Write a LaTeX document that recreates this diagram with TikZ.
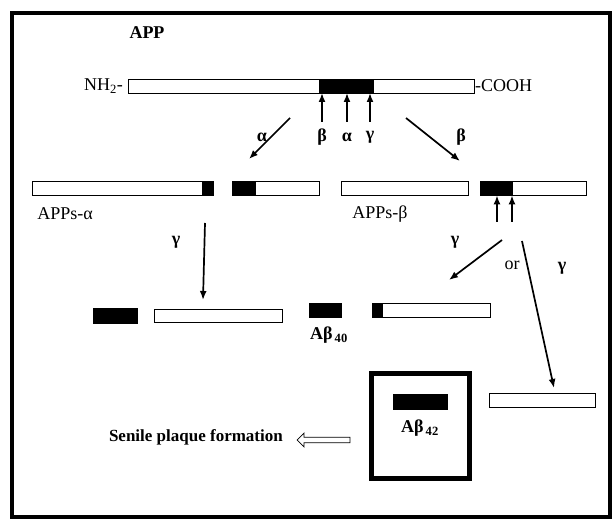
\documentclass[tikz,border=0pt]{standalone}
\usepackage{fontspec}
\setmainfont{Liberation Serif}
\usetikzlibrary{shapes.arrows,arrows.meta}

\begin{document}
\begin{tikzpicture}[
    x=1pt, y=-1pt,
    font=\fontsize{18}{20}\selectfont,
    bar/.style={rectangle, draw, fill=white, thick, inner sep=0pt, minimum height=14pt},
    blk/.style={rectangle, draw, fill=black, thick, inner sep=0pt, minimum height=14pt},
    lbl/.style={inner sep=1pt},
    greek/.style={inner sep=1pt, font=\fontsize{18}{20}\selectfont\bfseries},
    arrow/.style={-{Latex[length=9pt,width=7pt]}, line width=1.7pt}
]
\useasboundingbox (0,0) rectangle (614,521);
\draw[line width=4pt] (12,13) rectangle (610,517);

% full precursor
\node[lbl, font=\fontsize{18}{20}\selectfont\bfseries] (app) at (147,33) {APP};
\node[bar, minimum width=346pt] (main) at (301,86) {};
\node[blk, minimum width=54pt] (abmain) at (346,86) {};
\node[lbl, anchor=east] (nh) at (124,86) {NH\textsubscript{2}-};
\node[lbl, anchor=west] (cooh) at (474,86) {-COOH};

% cleavage sites
\node[greek] (sb) at (322,137) {β};
\node[greek] (sa) at (347,137) {α};
\node[greek] (sg) at (370,137) {γ};
\coordinate (tb) at (322,93);
\coordinate (ta) at (347,93);
\coordinate (tg) at (370,93);
\draw[arrow] (322,122) -- (tb);
\draw[arrow] (347,122) -- (ta);
\draw[arrow] (370,122) -- (tg);

% alpha / beta paths
\coordinate (aS) at (290,118);
\coordinate (aE) at (249,159);
\coordinate (bS) at (406,118);
\coordinate (bE) at (460,161);
\draw[arrow] (aS) -- (aE);
\draw[arrow] (bS) -- (bE);
\node[greek] (la) at (262,137) {α};
\node[greek] (lb) at (461,137) {β};

% second row
\node[bar, minimum width=181pt] (sa1) at (122.5,188) {};
\node[blk, minimum width=11pt] (sa1b) at (207.5,188) {};
\node[bar, minimum width=87pt] (c83) at (275.5,188) {};
\node[blk, minimum width=23pt] (c83b) at (243.5,188) {};
\node[bar, minimum width=127pt] (sb1) at (404.5,188) {};
\node[bar, minimum width=106pt] (c99) at (533,188) {};
\node[blk, minimum width=32pt] (c99b) at (496,188) {};
\node[lbl] (appsa) at (65,214) {APPs-α};
\node[lbl] (appsb) at (380,214) {APPs-β};

\coordinate (u1) at (497,222);
\coordinate (u2) at (512,222);
\draw[arrow] (u1) -- (c99b.south -| u1);
\draw[arrow] (u2) -- (c99b.south -| u2);

% gamma cuts
\coordinate (gS) at (205,223);
\coordinate (gE) at (203,300);
\draw[arrow] (gS) -- (gE);
\node[greek] (lg1) at (176,242) {γ};
\coordinate (lS) at (502,240);
\coordinate (lE) at (449,280);
\draw[arrow] (lS) -- (lE);
\node[greek] (lg2) at (455,242) {γ};
\node[lbl] (or) at (512,265) {or};
\coordinate (rS) at (522,241);
\coordinate (rE) at (554,388);
\draw[arrow] (rS) -- (rE);
\node[greek] (lg3) at (562,268) {γ};

% third row
\node[blk, minimum width=44pt, minimum height=15pt] (p3) at (115,315.5) {};
\node[bar, minimum width=128pt, minimum height=13pt] (aicd) at (218,315.5) {};
\node[blk, minimum width=32pt] (ab40) at (325,310) {};
\node[lbl, font=\fontsize{18}{20}\selectfont\bfseries] (lab40) at (329,335) {Aβ\textsubscript{\,40}};
\node[bar, minimum width=118pt] (c57) at (431,310) {};
\node[blk, minimum width=10pt] (c57b) at (377,310) {};

% A beta 42
\node[rectangle, draw, line width=4.5pt, minimum width=98pt, minimum height=105pt, inner sep=0pt] (plq) at (420.5,426) {};
\node[blk, minimum width=54pt, minimum height=15pt] (ab42) at (420,401.5) {};
\node[lbl, font=\fontsize{18}{20}\selectfont\bfseries] (lab42) at (420,428) {Aβ\textsubscript{\,42}};
\node[bar, minimum width=106pt] (c55) at (542,400) {};

% plaque
\node[single arrow, draw, thick, shape border rotate=180, minimum height=53pt,
      minimum width=14pt, single arrow head extend=3.5pt, inner sep=2pt] (open) at (325,440) {};
\node[lbl, anchor=east, font=\fontsize{17}{20}\selectfont\bfseries] (senile) at (284,437) {Senile plaque formation};

\end{tikzpicture}
\end{document}
